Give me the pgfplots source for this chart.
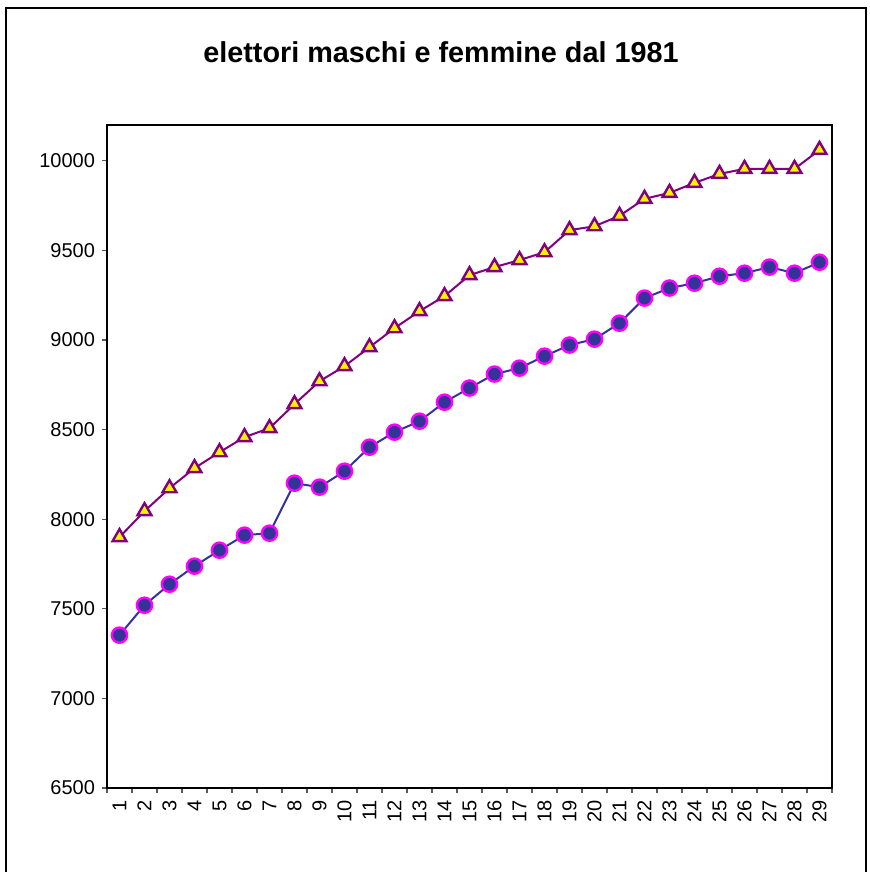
\documentclass[border=0pt]{standalone}
\usepackage{pgfplots}
\pgfplotsset{compat=1.18}
\usepackage{fontspec}
\setmainfont{Liberation Sans}
\definecolor{femm}{HTML}{800080}
\definecolor{masc}{HTML}{333399}
\definecolor{magenta}{HTML}{FF00FF}
\begin{document}
\begin{tikzpicture}
\useasboundingbox (-53.5pt,-42pt) rectangle (381pt,394pt);
\draw[black, line width=0.6pt] (-50.5pt,-60pt) -- (-50.5pt,390pt) -- (379.5pt,390pt) -- (379.5pt,-60pt);
\begin{axis}[
  at={(0,0)}, anchor=south west,
  scale only axis, width=362.5pt, height=331.5pt,
  xmin=0.5, xmax=29.5, ymin=6500, ymax=10200,
  xtick={1,...,29}, minor xtick={0.5,1.5,...,29.5},
  major x tick style={draw=none},
  ytick={6500,7000,...,10000},
  scaled y ticks=false,
  xtick pos=bottom, ytick pos=left,
  tick align=outside, major tick length=2.5pt, minor tick length=2.5pt,
  tick style={gray!70!black, line width=0.6pt},
  axis line style={line width=0.6pt},
  /pgf/number format/assume math mode=true,
  /pgf/number format/1000 sep={},
  tick label style={font=\fontsize{10}{12}\selectfont},
  x tick label style={rotate=90, anchor=east},
  clip=false,
]
\addplot[femm, line width=1pt, mark=triangle*, mark size=4pt,
  mark options={fill=yellow, draw=femm, line width=1.2pt}] coordinates {
(1,7900) (2,8045) (3,8173) (4,8285) (5,8374) (6,8458) (7,8508) (8,8642) (9,8770) (10,8854)
(11,8960) (12,9066) (13,9161) (14,9245) (15,9362) (16,9407) (17,9446) (18,9490) (19,9613) (20,9635)
(21,9693) (22,9788) (23,9821) (24,9877) (25,9927) (26,9955) (27,9955) (28,9955) (29,10061)};
\addplot[masc, line width=1pt, mark=*, mark size=3.8pt,
  mark options={fill=masc, draw=magenta, line width=1.2pt}] coordinates {
(1,7353) (2,7520) (3,7637) (4,7738) (5,7827) (6,7911) (7,7922) (8,8201) (9,8179) (10,8268)
(11,8402) (12,8486) (13,8547) (14,8653) (15,8732) (16,8810) (17,8843) (18,8910) (19,8972) (20,9005)
(21,9094) (22,9234) (23,9290) (24,9317) (25,9356) (26,9373) (27,9407) (28,9373) (29,9434)};
\end{axis}
\node[font=\fontsize{14.4}{17}\selectfont\bfseries] at (167pt,368pt) {elettori maschi e femmine dal 1981};
\end{tikzpicture}
\end{document}
